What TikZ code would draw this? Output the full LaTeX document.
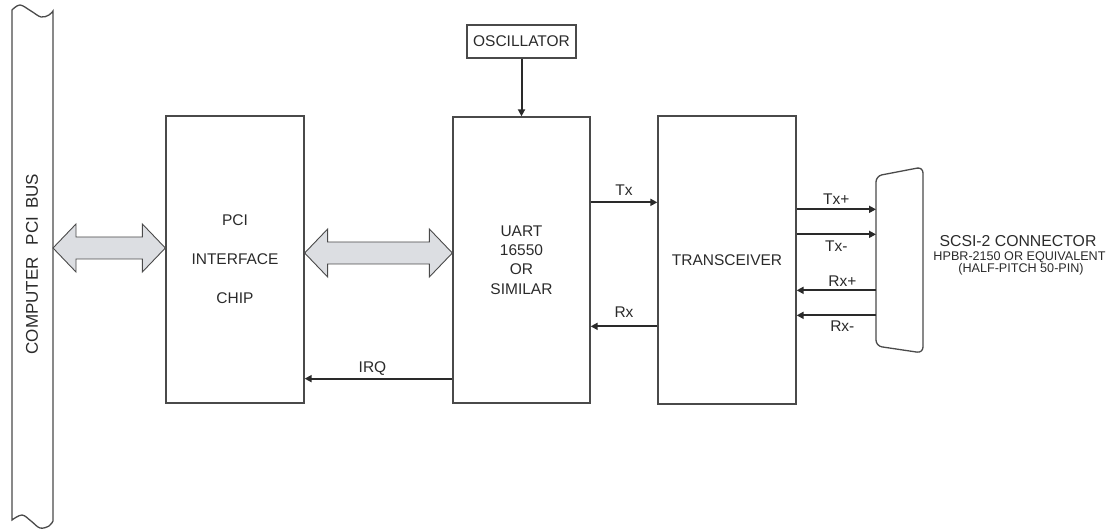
\documentclass[tikz,border=0pt]{standalone}
\usepackage{fontspec}
\setmainfont{Liberation Sans}
\usetikzlibrary{arrows.meta,calc}
\definecolor{ink}{HTML}{2A2A2A}
\definecolor{boxline}{HTML}{4A4A4A}
\definecolor{fatfill}{HTML}{DCDEE2}
\newcommand\fatarrow[2]{%
  \draw[fat] (#1) -- ($(#1)+(23,-24)$) -- ($(#1)+(23,-11)$) -- ($(#2)+(-23,-11)$)
    -- ($(#2)+(-23,-24)$) -- (#2) -- ($(#2)+(-23,24)$) -- ($(#2)+(-23,11)$)
    -- ($(#1)+(23,11)$) -- ($(#1)+(23,24)$) -- cycle;}
\begin{document}
\begin{tikzpicture}[x=1pt,y=-1pt,
  box/.style={draw=boxline, line width=1.3pt, rectangle, inner sep=0pt, text=ink,
    align=center, font=\fontsize{15.5}{18}\selectfont},
  sig/.style={draw=ink, line width=2pt, -{Triangle[length=7pt,width=7pt]}},
  fat/.style={draw=boxline, line width=0.9pt, fill=fatfill, line join=miter},
  lbl/.style={text=ink, font=\fontsize{15.5}{18}\selectfont, inner sep=0pt},
  busline/.style={draw=boxline, line width=1.3pt}]
\useasboundingbox (0,0) rectangle (1112,529);

% PCI bus
\node[lbl, minimum width=41pt, minimum height=510pt] (bus) at (32.5,265) {};
\node[lbl, font=\fontsize{17}{20}\selectfont, rotate=90] (buslbl) at (32,264)
  {COMPUTER\hspace{12pt}PCI\hspace{8pt}BUS};
\draw[busline] plot[smooth, tension=0.6] coordinates {(12,10) (20,5) (31,11) (41,17) (49,15) (53,11)}
  -- (53,521) -- plot[smooth, tension=0.6] coordinates {(53,521) (49,526) (40,528) (31,521) (22,515) (12,520)}
  -- cycle;

% blocks
\node[box, minimum width=138pt, minimum height=287pt, font=\fontsize{15.5}{39}\selectfont] (pci) at (235,259.5)
  {PCI\\INTERFACE\\CHIP};
\node[box, minimum width=137pt, minimum height=286pt, font=\fontsize{15.5}{19.3}\selectfont] (uart) at (521.5,260)
  {UART\\16550\\OR\\SIMILAR};
\node[box, minimum width=138pt, minimum height=288pt] (xcvr) at (727,260) {TRANSCEIVER};
\node[box, minimum width=109pt, minimum height=33pt, font=\fontsize{15.5}{17}\selectfont] (osc) at (521.5,41.5) {OSCILLATOR};

% connector
\coordinate (conn) at (876,260);
\draw[busline, rounded corners=6pt] (876,176) -- (923,167) -- (923,353) -- (876,346) -- cycle;
\node[lbl, font=\fontsize{15.8}{18}\selectfont] (scsi1) at (1018,241) {SCSI-2 CONNECTOR};
\node[lbl, font=\fontsize{12.6}{14}\selectfont] (scsi2) at (1019.5,257.5) {HPBR-2150 OR EQUIVALENT};
\node[lbl, font=\fontsize{12.6}{14}\selectfont] (scsi3) at (1021,269) {(HALF-PITCH 50-PIN)};

% fat bidirectional arrows
\coordinate (f1a) at (53,248);
\coordinate (f1b) at (pci.west |- f1a);
\fatarrow{f1a}{f1b}
\coordinate (f2a) at ($(pci.east)+(0,-6.5)$);
\coordinate (f2b) at (uart.west |- f2a);
\fatarrow{f2a}{f2b}

% signals
\draw[sig] (osc.south) -- (uart.north);
\coordinate (irqA) at ($(uart.south west)+(0,-25)$);
\draw[sig] (irqA) -- (irqA -| pci.east) node[lbl, midway, yshift=10pt, xshift=-6pt] {IRQ};
\coordinate (txA) at ($(uart.north east)+(0,86)$);
\draw[sig] (txA) -- (txA -| xcvr.west) node[lbl, midway, yshift=12pt] {Tx};
\coordinate (rxA) at ($(uart.north east)+(0,210)$);
\draw[sig] (rxA -| xcvr.west) -- (rxA) node[lbl, midway, yshift=14pt] {Rx};

\coordinate (p1) at ($(xcvr.north east)+(0,94)$);
\coordinate (p2) at ($(xcvr.north east)+(0,119)$);
\coordinate (p3) at ($(xcvr.north east)+(0,175)$);
\coordinate (p4) at ($(xcvr.north east)+(0,200)$);
\draw[sig] (p1) -- (p1 -| conn) node[lbl, midway, yshift=10pt] {Tx+};
\draw[sig] (p2) -- (p2 -| conn) node[lbl, midway, yshift=-12pt] {Tx-};
\draw[sig] (p3 -| conn) -- (p3) node[lbl, midway, yshift=9pt, xshift=6pt] {Rx+};
\draw[sig] (p4 -| conn) -- (p4) node[lbl, midway, yshift=-11pt, xshift=6pt] {Rx-};
\end{tikzpicture}
\end{document}
